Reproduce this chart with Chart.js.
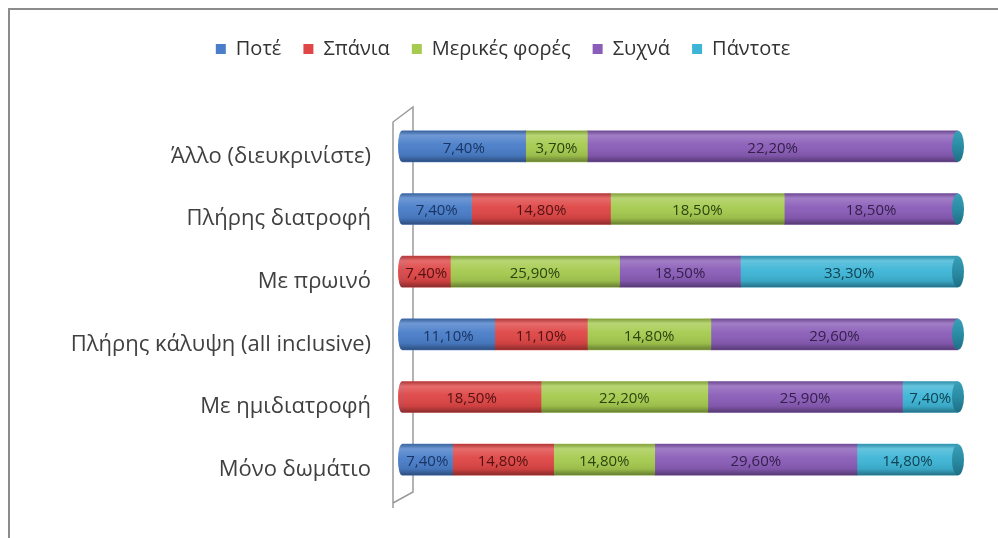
<!DOCTYPE html>
<html>
<head>
<meta charset="utf-8">
<script src="https://cdn.jsdelivr.net/npm/chart.js@4"></script>
<style>
  html, body { margin: 0; padding: 0; background: #fff; }
  #wrap { position: relative; width: 998px; height: 538px; }
  #frame { position: absolute; left: 8px; top: 8px; right: 0; bottom: 0;
           border-top: 2px solid #8c8c8c; border-left: 2px solid #8c8c8c; }
  canvas { position: absolute; left: 0; top: 0; }
</style>
</head>
<body>
<div id="wrap">
  <div id="frame"></div>
  <canvas id="chart" width="998" height="538"></canvas>
</div>
<script>
const categories = [
  "Άλλο (διευκρινίστε)",
  "Πλήρης διατροφή",
  "Με πρωινό",
  "Πλήρης κάλυψη (all inclusive)",
  "Με ημιδιατροφή",
  "Μόνο δωμάτιο"
];
const seriesNames = ["Ποτέ", "Σπάνια", "Μερικές φορές", "Συχνά", "Πάντοτε"];

// percentages printed on the bars
const pote    = [7.4, 7.4, 0, 11.1, 0, 7.4];
const spania  = [0, 14.8, 7.4, 11.1, 18.5, 14.8];
const merikes = [3.7, 18.5, 25.9, 14.8, 22.2, 14.8];
const sychna  = [22.2, 18.5, 18.5, 29.6, 25.9, 29.6];
const pantote = [0, 0, 33.3, 0, 7.4, 14.8];

const barColors   = ["#4a7ec9", "#df4646", "#a6cb50", "#8a5db8", "#3eb5d6"];
const labelColors = ["#1a3564", "#521212", "#2a4410", "#35204b", "#114252"];

const seriesValues = [pote, spania, merikes, sychna, pantote];
// 100% stacked: each bar is scaled to its own total
const rowTotals = categories.map((c, i) => seriesValues.reduce((s, arr) => s + arr[i], 0));

const datasets = seriesNames.map((name, k) => ({
  label: name,
  raw: seriesValues[k],
  data: seriesValues[k].map((v, i) => v / rowTotals[i] * 100),
  backgroundColor: barColors[k],
  borderWidth: 0,
  barThickness: 31
}));

function fmt(v) {
  return v.toFixed(2).replace(".", ",") + "%";
}

const PAD_LEFT = 48;

// extra room under the legend
const legendSpace = {
  id: "legendSpace",
  afterInit(chart) {
    const lg = chart.legend;
    const fit = lg.fit;
    lg.fit = function () {
      fit.call(lg);
      this.height += 46;
    };
  }
};

// the 3d wall drawn left of the bars
const wall = {
  id: "wall",
  beforeDatasetsDraw(chart) {
    const { ctx, chartArea: ca } = chart;
    const fx = ca.left - 9, bx = ca.left + 11;
    ctx.save();
    ctx.strokeStyle = "#9a9a9a";
    ctx.lineWidth = 1.5;
    ctx.beginPath();
    ctx.moveTo(fx, ca.bottom + 17);
    ctx.lineTo(fx, ca.top + 7);
    ctx.lineTo(bx, ca.top - 8);
    ctx.lineTo(bx, ca.bottom + 1);
    ctx.lineTo(fx, ca.bottom + 12);
    ctx.stroke();
    ctx.restore();
  }
};

// cylinder shading, end caps and value labels
const cylinder = {
  id: "cylinder",
  afterDatasetsDraw(chart) {
    const { ctx, chartArea: ca } = chart;
    const metas = chart.data.datasets.map((d, k) => chart.getDatasetMeta(k));

    categories.forEach((c, i) => {
      const el = metas[0].data[i];
      const { y, height } = el.getProps(["y", "height"], true);
      const top = y - height / 2, bot = y + height / 2;

      // left rounded end in the colour of the first segment
      const first = seriesValues.findIndex(arr => arr[i] > 0);
      ctx.save();
      ctx.fillStyle = barColors[first];
      ctx.beginPath();
      ctx.ellipse(ca.left, y, 4, height / 2, 0, Math.PI / 2, Math.PI * 1.5);
      ctx.fill();

      // shading over the whole cylinder
      const g = ctx.createLinearGradient(0, top, 0, bot);
      g.addColorStop(0, "rgba(0,0,0,0.22)");
      g.addColorStop(0.15, "rgba(255,255,255,0.2)");
      g.addColorStop(0.45, "rgba(255,255,255,0.04)");
      g.addColorStop(0.8, "rgba(0,0,0,0.08)");
      g.addColorStop(1, "rgba(0,0,0,0.38)");
      ctx.fillStyle = g;
      ctx.beginPath();
      ctx.ellipse(ca.left, y, 4, height / 2, 0, Math.PI / 2, Math.PI * 1.5);
      ctx.lineTo(ca.right, top);
      ctx.lineTo(ca.right, bot);
      ctx.closePath();
      ctx.fill();

      // right cap
      const cg = ctx.createLinearGradient(0, top, 0, bot);
      cg.addColorStop(0, "#3a9fb8");
      cg.addColorStop(0.5, "#2a8ca4");
      cg.addColorStop(1, "#1d6f85");
      ctx.fillStyle = cg;
      ctx.beginPath();
      ctx.ellipse(ca.right, y, 6, height / 2, 0, 0, Math.PI * 2);
      ctx.fill();
      ctx.restore();
    });

    // value labels
    ctx.save();
    ctx.font = "15px 'Open Sans'";
    ctx.textAlign = "center";
    ctx.textBaseline = "middle";
    chart.data.datasets.forEach((ds, k) => {
      metas[k].data.forEach((el, i) => {
        if (!(ds.raw[i] > 0)) return;
        const p = el.getProps(["x", "base", "y"], true);
        ctx.fillStyle = labelColors[k];
        ctx.fillText(fmt(ds.raw[i]), (p.x + p.base) / 2, p.y + 2);
      });
    });
    ctx.restore();
  }
};

new Chart(document.getElementById("chart"), {
  type: "bar",
  data: { labels: categories, datasets },
  options: {
    indexAxis: "y",
    responsive: false,
    animation: false,
    layout: { padding: { top: 17, right: 40, bottom: 47, left: PAD_LEFT } },
    plugins: {
      legend: {
        position: "top",
        labels: {
          boxWidth: 10,
          boxHeight: 10,
          padding: 22,
          color: "#333",
          font: { family: "'Open Sans'", size: 20 }
        }
      },
      tooltip: { enabled: false }
    },
    scales: {
      x: { stacked: true, min: 0, max: 100, display: false },
      y: {
        stacked: true,
        grid: { display: false },
        border: { display: false },
        ticks: {
          color: "#404040",
          padding: 23,
          labelOffset: 10,
          font: { family: "'Open Sans'", size: 22 }
        },
        afterFit(scale) { scale.width = 402 - PAD_LEFT; }
      }
    }
  },
  plugins: [legendSpace, wall, cylinder]
});
</script>
</body>
</html>
